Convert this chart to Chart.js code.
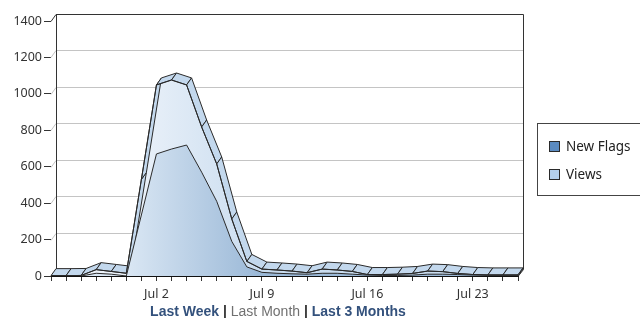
<!DOCTYPE html>
<html><head><meta charset="utf-8">
<script src="https://cdn.jsdelivr.net/npm/chart.js@4"></script>
<style>
html,body{margin:0;padding:0;background:#fff;overflow:hidden}
#wrap{position:relative;width:640px;height:318px;overflow:hidden}
#c{position:absolute;left:0;top:0}
#legend{position:absolute;left:537px;top:123px;width:120px;height:73px;border:1px solid #444;box-sizing:border-box;font:13.5px "Noto Sans",sans-serif;color:#222}
.item{position:absolute;left:11px;height:20px;line-height:20px}
.sw{position:absolute;left:0;top:5px;width:9px;height:9px;border:1px solid #2a2a2a}
.lab{position:absolute;left:17px;top:0;white-space:nowrap}
#links{position:absolute;left:0;width:556px;top:303px;line-height:14px;text-align:center;font:14px "Liberation Sans",Arial,sans-serif;white-space:nowrap}
#links b{color:#33517c}
#links .sep{color:#333;font-weight:bold}
#links .mid{color:#707070}
</style></head>
<body>
<div id="wrap">
<canvas id="c" width="640" height="318"></canvas>
<div id="legend"></div>
<div id="links"><b>Last Week</b><span class="sep"> | </span><span class="mid">Last Month</span><span class="sep"> | </span><b>Last 3 Months</b></div>
</div>
<script>
const categories = ['Jun 25','Jun 26','Jun 27','Jun 28','Jun 29','Jun 30',
  'Jul 1','Jul 2','Jul 3','Jul 4','Jul 5','Jul 6','Jul 7','Jul 8',
  'Jul 9','Jul 10','Jul 11','Jul 12','Jul 13','Jul 14','Jul 15',
  'Jul 16','Jul 17','Jul 18','Jul 19','Jul 20','Jul 21','Jul 22',
  'Jul 23','Jul 24','Jul 25','Jul 26'];
const newFlags = [0,0,0,15,10,0, 335,670,697,719,570,410,190,50, 20,15,12,10,15,15,10, 5,3,3,5,10,10,8, 5,3,3,3];
const views = [2,2,3,35,25,15, 530,1049,1076,1049,818,615,313,80, 38,33,27,18,38,33,25, 8,8,10,14,27,24,14, 8,6,6,6];
const yTicks = [0,200,400,600,800,1000,1200,1400];
const xTickLabels = ['Jul 2','Jul 9','Jul 16','Jul 23'];
const seriesNames = ['New Flags','Views'];
const legendColors = ['#5b8bc1','#b3cfec'];

// legend
const lg = document.getElementById('legend');
seriesNames.forEach((n,i)=>{
  const d = document.createElement('div');
  d.className='item'; d.style.top = (12 + i*28) + 'px';
  d.innerHTML = '<span class="sw" style="background:'+legendColors[i]+'"></span><span class="lab">'+n+'</span>';
  lg.appendChild(d);
});

const DX = 5, DY = -7;
function grad(c0, c1){
  return (ctx)=>{
    const ch = ctx.chart, x = ch.scales.x;
    if(!ch.chartArea || !x) return c1;
    const g = ch.ctx.createLinearGradient(x.getPixelForValue(5),0,x.getPixelForValue(14),0);
    g.addColorStop(0,c0); g.addColorStop(1,c1);
    return g;
  };
}
const threeD = {
  id:'threeD',
  beforeDatasetsDraw(chart){
    const {ctx, chartArea:a, scales:{y}} = chart;
    ctx.save();
    ctx.lineWidth = 1;
    const top = yTicks[yTicks.length-1];
    yTicks.forEach(v=>{
      if(v===0) return;
      const py = Math.round(y.getPixelForValue(v)) + 0.5;
      ctx.strokeStyle = v===top ? '#333' : '#c4c4c4';
      ctx.beginPath();
      ctx.moveTo(a.left, py); ctx.lineTo(a.left+DX, py+DY); ctx.lineTo(a.right+DX, py+DY);
      if(v===top) ctx.lineTo(a.right+DX+0.5, py+DY);
      ctx.stroke();
    });
    const by = Math.round(y.getPixelForValue(0)) + 0.5;
    ctx.strokeStyle = '#aaa';
    ctx.beginPath(); ctx.moveTo(a.left+DX, by+DY); ctx.lineTo(a.right+DX, by+DY); ctx.stroke();
    ctx.strokeStyle = '#333';
    const ty = Math.round(y.getPixelForValue(top)) + 0.5 + DY;
    ctx.beginPath();
    ctx.moveTo(a.left+DX+0.5, ty); ctx.lineTo(a.left+DX+0.5, by+DY); ctx.lineTo(a.left, by);
    ctx.moveTo(a.right+DX+0.5, ty); ctx.lineTo(a.right+DX+0.5, by+DY); ctx.lineTo(a.right, by);
    ctx.stroke();
    ctx.restore();
  },
  beforeDatasetDraw(chart, args){
    if(args.index !== 1) return;
    const {ctx} = chart;
    const pts = args.meta.data;
    const base = chart.scales.y.getPixelForValue(0);
    ctx.save();
    ctx.lineWidth = 1;
    ctx.strokeStyle = '#2a2a2a';
    ctx.fillStyle = '#c3d8ed';
    ctx.lineJoin = 'round';
    for(let i=0;i<pts.length-1;i++){
      const p=pts[i], q=pts[i+1];
      ctx.beginPath();
      ctx.moveTo(p.x,p.y); ctx.lineTo(q.x,q.y); ctx.lineTo(q.x+DX,q.y+DY); ctx.lineTo(p.x+DX,p.y+DY);
      ctx.closePath(); ctx.fill(); ctx.stroke();
    }
    const e = pts[pts.length-1];
    ctx.fillStyle = '#a9c4e0';
    ctx.beginPath();
    ctx.moveTo(e.x,base); ctx.lineTo(e.x,e.y); ctx.lineTo(e.x+DX,e.y+DY); ctx.lineTo(e.x+DX,base+DY);
    ctx.closePath(); ctx.fill(); ctx.stroke();
    ctx.restore();
  }
};

const tickFont = {family:'"Noto Sans"', size:12.5};
new Chart(document.getElementById('c'), {
  type:'line',
  data:{
    labels: categories,
    datasets:[
      {label:seriesNames[0], data:newFlags, fill:'origin', backgroundColor:grad('#dae7f4','#9ab8d7'),
       borderColor:'#2a2a2a', borderWidth:1, pointRadius:0, tension:0},
      {label:seriesNames[1], data:views, fill:'origin', backgroundColor:grad('#edf3fa','#c9dcef'),
       borderColor:'#2a2a2a', borderWidth:1, pointRadius:0, tension:0}
    ]
  },
  options:{
    responsive:false, animation:false, devicePixelRatio:1,
    layout:{padding:{left:0,right:122,top:21,bottom:0}},
    plugins:{legend:{display:false}, tooltip:{enabled:false}},
    scales:{
      x:{
        type:'category',
        ticks:{autoSkip:false, maxRotation:0, minRotation:0, padding:6, font:tickFont, color:'#333',
          callback:(v,i)=> xTickLabels.includes(categories[i]) ? categories[i] : ''},
        grid:{drawOnChartArea:false, drawTicks:true, tickLength:5, color:'#333'},
        border:{display:true, color:'#111', width:1},
        afterFit:s=>{ s.height = 42; }
      },
      y:{
        type:'linear', min:0, max:1400,
        ticks:{stepSize:200, padding:2, font:tickFont, color:'#333', callback:v=>String(v)},
        afterBuildTicks:s=>{ s.ticks = yTicks.map(v=>({value:v})); },
        grid:{drawOnChartArea:false, drawTicks:true, tickLength:7, color:'#333'},
        border:{display:false},
        afterFit:s=>{ s.width = 51; }
      }
    }
  },
  plugins:[threeD]
});
</script>
</body></html>
